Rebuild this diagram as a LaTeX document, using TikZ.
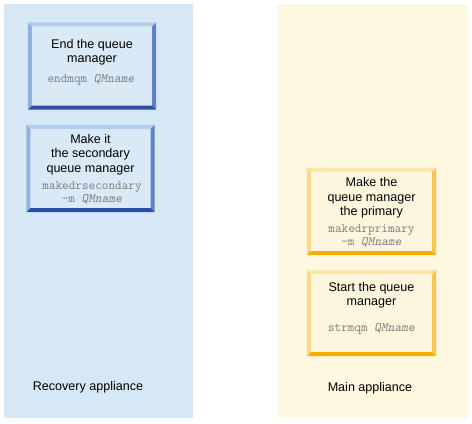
\documentclass[tikz,border=0pt]{standalone}
\usepackage{fontspec}
\setmainfont{Liberation Sans}
\usetikzlibrary{calc}
\definecolor{bluepanel}{HTML}{D6E8F5}
\definecolor{bluefill}{HTML}{D9E9F6}
\definecolor{bluetop}{HTML}{B4CDEC}
\definecolor{blueleft}{HTML}{93B1DE}
\definecolor{blueright}{HTML}{5F82C4}
\definecolor{bluebot}{HTML}{2D4E9E}
\definecolor{yelpanel}{HTML}{FEF8E1}
\definecolor{yelfill}{HTML}{FDF6DE}
\definecolor{yeltop}{HTML}{FCE6A8}
\definecolor{yelleft}{HTML}{FAD98A}
\definecolor{yelright}{HTML}{F6C64E}
\definecolor{yelbot}{HTML}{EFB000}
\definecolor{codegray}{HTML}{7E7E7E}
\tikzset{
  panelbox/.style={inner sep=0pt, draw=none},
  stepbox/.style={inner sep=0pt, draw=none},
  maintext/.style={align=center, font=\fontsize{12.6}{14.5}\selectfont, inner sep=0pt, text=black},
  codetext/.style={align=center, font=\ttfamily\fontsize{12.9}{13}\selectfont, inner sep=0pt, text=codegray},
  paneltext/.style={font=\fontsize{12.6}{14}\selectfont, inner sep=0pt, text=black},
}
\newcommand{\bevelbox}[5]{%
  \fill[#2] (#1.north west) -- (#1.north east) -- ($(#1.north east)+(-4,-4)$) -- ($(#1.north west)+(4,-4)$) -- cycle;
  \fill[#3] (#1.north west) -- ($(#1.north west)+(4,-4)$) -- ($(#1.south west)+(4,4)$) -- (#1.south west) -- cycle;
  \fill[#4] (#1.north east) -- (#1.south east) -- ($(#1.south east)+(-4,4)$) -- ($(#1.north east)+(-4,-4)$) -- cycle;
  \fill[#5] (#1.south west) -- (#1.south east) -- ($(#1.south east)+(-4,4)$) -- ($(#1.south west)+(4,4)$) -- cycle;
}
\begin{document}
\begin{tikzpicture}[x=1bp,y=1bp]
\useasboundingbox (0,0) rectangle (472,-423);
\fill[white] (0,0) rectangle (472,-423);
% panels
\node[panelbox, fill=bluepanel, minimum width=189bp, minimum height=414bp] (recovery) at (98.5,-211) {};
\node[panelbox, fill=yelpanel, minimum width=190bp, minimum height=414bp] (mainpanel) at (373,-211) {};
% boxes
\node[stepbox, fill=bluefill, minimum width=128bp, minimum height=87bp] (endqm) at (92,-66) {};
\node[stepbox, fill=bluefill, minimum width=128bp, minimum height=87bp] (makesec) at (90.5,-168.5) {};
\node[stepbox, fill=yelfill, minimum width=129bp, minimum height=87bp] (makeprim) at (371.5,-211.5) {};
\node[stepbox, fill=yelfill, minimum width=129bp, minimum height=86bp] (startqm) at (371.5,-313) {};
\bevelbox{endqm}{bluetop}{blueleft}{blueright}{bluebot}
\bevelbox{makesec}{bluetop}{blueleft}{blueright}{bluebot}
\bevelbox{makeprim}{yeltop}{yelleft}{yelright}{yelbot}
\bevelbox{startqm}{yeltop}{yelleft}{yelright}{yelbot}
% texts
\node[maintext] (t1) at (92,-52) {End the queue\\manager};
\node[codetext] (c1) at (91,-80) {endmqm \textsl{QMname}};
\node[maintext] (t2) at (90.5,-154.5) {Make it\\the secondary\\queue manager};
\node[codetext] (c2) at (92,-192.5) {makedrsecondary\\-m \textsl{QMname}};
\node[maintext] (t3) at (371.5,-198) {Make the\\queue manager\\the primary};
\node[codetext] (c3) at (371.5,-236) {makedrprimary\\-m \textsl{QMname}};
\node[maintext] (t4) at (371.5,-295.5) {Start the queue\\manager};
\node[codetext] (c4) at (371.5,-328.5) {strmqm \textsl{QMname}};
\node[paneltext] (l1) at (88,-387) {Recovery appliance};
\node[paneltext] (l2) at (370,-388) {Main appliance};
\end{tikzpicture}
\end{document}
